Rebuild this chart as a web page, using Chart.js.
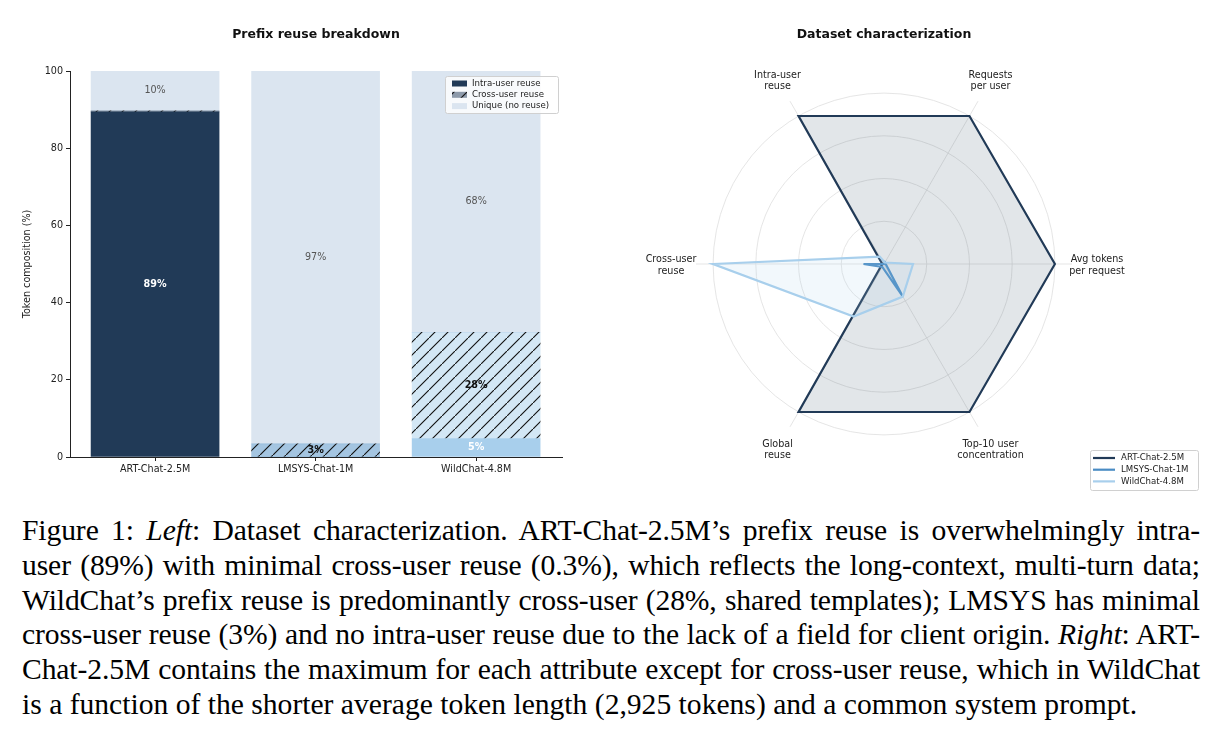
<!DOCTYPE html>
<html>
<head>
<meta charset="utf-8">
<script src="https://cdn.jsdelivr.net/npm/chart.js@4.4.1/dist/chart.umd.min.js"></script>
<style>
  body { margin: 0; background: #fff; width: 1219px; height: 729px; overflow: hidden; position: relative; }
  #bar { position: absolute; left: 0; top: 0; }
  #radar { position: absolute; left: 612px; top: 0; }
  #caption { position: absolute; left: 22px; top: 513px; width: 1178px; font-family: 'Liberation Serif', serif; font-size: 29.6px; line-height: 34.8px; color: #000; }
  #caption div { text-align: justify; text-align-last: justify; word-spacing: -4px; letter-spacing: -0.1px; }
  #caption div.last { text-align-last: left; word-spacing: 0; letter-spacing: 0; }
</style>
</head>
<body>
<canvas id="bar" width="600" height="500"></canvas>
<canvas id="radar" width="607" height="500"></canvas>
<div id="caption">
  <div>Figure 1: <i>Left</i>: Dataset characterization. ART-Chat-2.5M’s prefix reuse is overwhelmingly intra-</div>
  <div>user (89%) with minimal cross-user reuse (0.3%), which reflects the long-context, multi-turn data;</div>
  <div>WildChat’s prefix reuse is predominantly cross-user (28%, shared templates); LMSYS has minimal</div>
  <div>cross-user reuse (3%) and no intra-user reuse due to the lack of a field for client origin. <i>Right</i>: ART-</div>
  <div>Chat-2.5M contains the maximum for each attribute except for cross-user reuse, which in WildChat</div>
  <div class="last">is a function of the shorter average token length (2,925 tokens) and a common system prompt.</div>
</div>
<script>
// ---- data
const datasetNames = ['ART-Chat-2.5M', 'LMSYS-Chat-1M', 'WildChat-4.8M'];
const intraReuse = [89.4, 0, 4.8];
const crossReuse = [0.3, 3.4, 27.5];
const uniqueShare = [10.3, 96.6, 67.7];
const intraLabels = ['89%', '', '5%'];
const crossLabels = ['', '3%', '28%'];
const uniqueLabels = ['10%', '97%', '68%'];

const radarAxes = [['Avg tokens', 'per request'], ['Top-10 user', 'concentration'], ['Global', 'reuse'],
                   ['Cross-user', 'reuse'], ['Intra-user', 'reuse'], ['Requests', 'per user']];
const artRadar = [1, 1, 1, 0.01, 1, 1];
const lmsysRadar = [0.01, 0.215, 0.02, 0.12, 0, 0.01];
const wildRadar = [0.17, 0.22, 0.355, 1, 0.05, 0.01];
const radarRings = [0, 0.25, 0.5, 0.75, 1];

const navy = '#213a57', mid = '#4a8cc4', light = '#a8cfec', uniqueColor = '#dbe5f0';
const seriesColors = [navy, mid, light];
const seriesHalf = ['rgba(33,58,87,0.5)', 'rgba(74,140,196,0.5)', 'rgba(168,207,236,0.5)'];

Chart.defaults.font.family = "'DejaVu Sans', sans-serif";
Chart.defaults.font.size = 9.6;
Chart.defaults.color = '#222';
Chart.defaults.animation = false;

const barCtx = document.getElementById('bar').getContext('2d');

// diagonal '/' hatch on a colour
function hatch(color) {
  const s = 13;
  const c = document.createElement('canvas');
  c.width = s; c.height = s;
  const x = c.getContext('2d');
  x.fillStyle = color;
  x.fillRect(0, 0, s, s);
  x.strokeStyle = '#111';
  x.lineWidth = 1.1;
  x.beginPath();
  x.moveTo(-1, s + 1); x.lineTo(s + 1, -1);
  x.moveTo(-2, 1); x.lineTo(1, -2);
  x.moveTo(s - 1, s + 2); x.lineTo(s + 2, s - 1);
  x.stroke();
  return barCtx.createPattern(c, 'repeat');
}
const crossFill = seriesHalf.map(hatch);
const toPoints = arr => arr.map((v, i) => ({ x: i, y: v }));

//-------------bar labels
const barLabels = {
  id: 'barLabels',
  afterDatasetsDraw(chart) {
    const ctx = chart.ctx;
    const sets = [[intraLabels, '#fff', 'bold'], [crossLabels, '#111', 'bold'], [uniqueLabels, '#555', 'normal']];
    sets.forEach(([labels, color, weight], d) => {
      chart.getDatasetMeta(d).data.forEach((bar, i) => {
        if (!labels[i]) return;
        ctx.save();
        ctx.font = weight + " 9.6px 'DejaVu Sans'";
        ctx.fillStyle = color;
        ctx.textAlign = 'center';
        ctx.textBaseline = 'middle';
        ctx.fillText(labels[i], bar.x, (bar.y + bar.base) / 2);
        ctx.restore();
      });
    });
  }
};

//-------------legend box inside the bar plot
const barLegend = {
  id: 'barLegend',
  afterDraw(chart) {
    const ctx = chart.ctx, a = chart.chartArea;
    const x0 = a.right - 117, y0 = a.top + 5, w = 113, h = 37;
    ctx.save();
    ctx.fillStyle = 'rgba(255,255,255,0.8)';
    ctx.strokeStyle = '#d0d0d0';
    ctx.lineWidth = 1;
    ctx.beginPath();
    ctx.roundRect(x0 + 0.5, y0 + 0.5, w, h, 2);
    ctx.fill(); ctx.stroke();
    const items = [['Intra-user reuse', navy], ['Cross-user reuse', crossFill[0]], ['Unique (no reuse)', uniqueColor]];
    ctx.font = "8.6px 'DejaVu Sans'";
    ctx.textBaseline = 'middle';
    items.forEach(([t, fill], k) => {
      const cy = y0 + 7.5 + k * 11.3;
      ctx.fillStyle = fill;
      ctx.fillRect(x0 + 7, cy - 3, 15, 6);
      ctx.fillStyle = '#222';
      ctx.fillText(t, x0 + 27, cy);
    });
    ctx.restore();
  }
};

new Chart(barCtx, {
  type: 'bar',
  data: {
    datasets: [
      { label: 'Intra-user reuse', data: toPoints(intraReuse), backgroundColor: seriesColors },
      { label: 'Cross-user reuse', data: toPoints(crossReuse), backgroundColor: crossFill },
      { label: 'Unique (no reuse)', data: toPoints(uniqueShare), backgroundColor: uniqueColor }
    ]
  },
  options: {
    responsive: false,
    layout: { padding: { left: 16, right: 38, bottom: 18 } },
    datasets: { bar: { barThickness: 128, borderWidth: 0 } },
    plugins: {
      legend: { display: false },
      tooltip: { enabled: false },
      title: { display: true, text: 'Prefix reuse breakdown', fullSize: false, color: '#111',
               font: { size: 12.5, weight: 'bold' }, padding: { top: 27, bottom: 29 } }
    },
    scales: {
      x: {
        type: 'linear', min: -0.53, max: 2.535, stacked: true, offset: false,
        afterBuildTicks: s => { s.ticks = datasetNames.map((_, i) => ({ value: i })); },
        grid: { drawOnChartArea: false, offset: false, tickLength: 4, color: '#222' },
        border: { color: '#222', width: 1 },
        ticks: { padding: 3, callback: v => datasetNames[v] },
        afterFit: s => { s.height = 25; }
      },
      y: {
        stacked: true, min: 0, max: 100,
        ticks: { stepSize: 20, padding: 3 },
        grid: { drawOnChartArea: false, tickLength: 4, color: '#222' },
        border: { color: '#222', width: 1 },
        title: { display: true, text: 'Token composition (%)', padding: { top: 6, bottom: 4 } },
        afterFit: s => { s.width = 54; }
      }
    }
  },
  plugins: [barLabels, barLegend]
});

//-------------radar labels + legend
const radarLabels = {
  id: 'radarLabels',
  afterDraw(chart) {
    const s = chart.scales.r, ctx = chart.ctx;
    ctx.save();
    ctx.font = "9.6px 'DejaVu Sans'";
    ctx.fillStyle = '#222';
    ctx.textAlign = 'center';
    ctx.textBaseline = 'middle';
    radarAxes.forEach((lines, i) => {
      const p = s.getPointPosition(i, s.drawingArea + 25);
      lines.forEach((t, k) => ctx.fillText(t, p.x, p.y + 1.5 + (k - (lines.length - 1) / 2) * 11.5));
    });
    ctx.restore();
  }
};

const radarLegend = {
  id: 'radarLegend',
  afterDraw(chart) {
    const ctx = chart.ctx;
    const x0 = chart.width - 129, y0 = chart.height - 50, w = 108, h = 40;
    ctx.save();
    ctx.fillStyle = 'rgba(255,255,255,0.8)';
    ctx.strokeStyle = '#d0d0d0';
    ctx.lineWidth = 1;
    ctx.beginPath();
    ctx.roundRect(x0 + 0.5, y0 + 0.5, w, h, 2);
    ctx.fill(); ctx.stroke();
    ctx.font = "8.6px 'DejaVu Sans'";
    ctx.textBaseline = 'middle';
    chart.data.datasets.forEach((ds, k) => {
      const cy = y0 + 8 + k * 11.7;
      ctx.strokeStyle = ds.borderColor;
      ctx.lineWidth = 2.2;
      ctx.beginPath(); ctx.moveTo(x0 + 3, cy); ctx.lineTo(x0 + 25, cy); ctx.stroke();
      ctx.fillStyle = '#222';
      ctx.fillText(ds.label, x0 + 31, cy);
    });
    ctx.restore();
  }
};

new Chart(document.getElementById('radar'), {
  type: 'radar',
  data: {
    labels: radarAxes,
    datasets: [
      { label: datasetNames[0], data: artRadar, borderColor: navy, backgroundColor: 'rgba(33,58,87,0.13)', order: 3 },
      { label: datasetNames[1], data: lmsysRadar, borderColor: mid, backgroundColor: 'rgba(74,140,196,0.12)', order: 2 },
      { label: datasetNames[2], data: wildRadar, borderColor: light, backgroundColor: 'rgba(168,207,236,0.15)', order: 1 }
    ]
  },
  options: {
    responsive: false,
    layout: { padding: { left: 84, right: 147, bottom: 48 } },
    elements: { line: { borderWidth: 2.2, tension: 0, fill: true }, point: { radius: 0 } },
    plugins: {
      legend: { display: false },
      tooltip: { enabled: false },
      title: { display: true, text: 'Dataset characterization', fullSize: false, color: '#111',
               font: { size: 12.5, weight: 'bold' }, padding: { top: 27, bottom: 34 } }
    },
    scales: {
      r: {
        min: 0, max: 1.1, startAngle: 90,
        afterBuildTicks: s => { s.ticks = radarRings.map(v => ({ value: v })); },
        ticks: { display: false },
        pointLabels: { display: false },
        grid: { circular: true, color: '#dedede', lineWidth: 0.8 },
        angleLines: { color: '#dedede', lineWidth: 0.8 }
      }
    }
  },
  plugins: [radarLabels, radarLegend]
});
</script>
</body>
</html>
